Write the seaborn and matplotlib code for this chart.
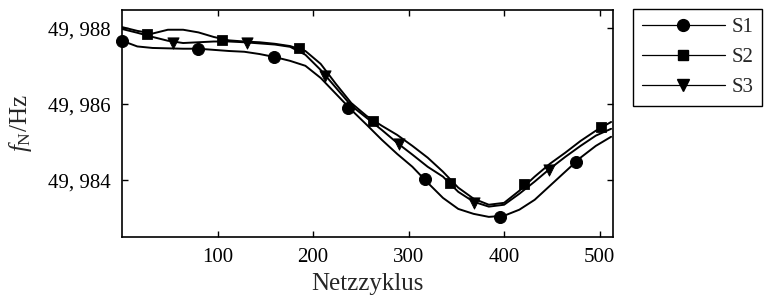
import numpy as np
import pandas as pd
import matplotlib
matplotlib.use("Agg")
import matplotlib.pyplot as plt
from matplotlib.lines import Line2D
from matplotlib.ticker import FuncFormatter
import seaborn as sns

# --- curve samples ---
netzzyklus = np.arange(0, 513, 16)

s1_curve = [49.98767, 49.98752, 49.98748, 49.98747, 49.98746, 49.98746, 49.98743, 49.98740,
            49.98738, 49.98732, 49.98724, 49.98714, 49.98701, 49.98669, 49.98627, 49.98585,
            49.98546, 49.98506, 49.98469, 49.98435, 49.98393, 49.98353, 49.98324, 49.98311,
            49.98303, 49.98306, 49.98322, 49.98348, 49.98385, 49.98422, 49.98459, 49.98490,
            49.98514]
s2_curve = [49.98803, 49.98793, 49.98786, 49.98796, 49.98796, 49.98789, 49.98777, 49.98768,
            49.98765, 49.98763, 49.98759, 49.98753, 49.98740, 49.98706, 49.98653, 49.98603,
            49.98569, 49.98543, 49.98519, 49.98490, 49.98459, 49.98422, 49.98380, 49.98351,
            49.98335, 49.98340, 49.98372, 49.98409, 49.98443, 49.98472, 49.98503, 49.98530,
            49.98553]
s3_curve = [49.98798, 49.98788, 49.98777, 49.98767, 49.98761, 49.98763, 49.98765, 49.98765,
            49.98763, 49.98760, 49.98757, 49.98751, 49.98730, 49.98690, 49.98643, 49.98596,
            49.98564, 49.98532, 49.98498, 49.98467, 49.98435, 49.98409, 49.98369, 49.98343,
            49.98330, 49.98335, 49.98364, 49.98396, 49.98430, 49.98461, 49.98490, 49.98517,
            49.98535]

# --- marker positions ---
s1_mx = [0, 80, 159, 237, 317, 396, 475]
s1_my = [49.98767, 49.98746, 49.98724, 49.98590, 49.98403, 49.98303, 49.98448]
s2_mx = [26, 105, 185, 263, 343, 421, 501]
s2_my = [49.98785, 49.98769, 49.98748, 49.98556, 49.98393, 49.98390, 49.98540]
s3_mx = [53, 131, 212, 290, 368, 447]
s3_my = [49.98761, 49.98761, 49.98674, 49.98495, 49.98340, 49.98427]

labels = ["S1", "S2", "S3"]
markers = ["o", "s", "v"]
yticks = [49.984, 49.986, 49.988]
xticks = [100, 200, 300, 400, 500]

sns.set_style("ticks")
plt.rcParams["font.family"] = ["Liberation Serif", "DejaVu Serif"]
plt.rcParams["mathtext.fontset"] = "custom"
plt.rcParams["mathtext.rm"] = "Liberation Serif"
plt.rcParams["mathtext.it"] = "Liberation Serif:italic"

W, H = 765, 299
fig = plt.figure(figsize=(W / 100, H / 100), dpi=100)
ax = fig.add_axes([122 / W, 1 - 237 / H, (613 - 122) / W, (237 - 10) / H])

curves = [s1_curve, s2_curve, s3_curve]
mxs = [s1_mx, s2_mx, s3_mx]
mys = [s1_my, s2_my, s3_my]
msizes = [75, 48, 65]

for curve, mx, my, mk, ms in zip(curves, mxs, mys, markers, msizes):
    sns.lineplot(x=netzzyklus, y=curve, color="black", linewidth=1.4, ax=ax)
    sns.scatterplot(x=mx, y=my, marker=mk, color="black", edgecolor="black", s=ms,
                    ax=ax, zorder=3, clip_on=False)

ax.set_xlim(0, 514)
ax.set_ylim(49.9825, 49.98848)
ax.set_xticks(xticks)
ax.set_yticks(yticks)
ax.yaxis.set_major_formatter(FuncFormatter(lambda v, p: f"{v:.3f}".replace(".", ", ")))
ax.tick_params(direction="in", top=True, right=True, length=4, width=1, labelsize=15,
               colors="black")
ax.tick_params(axis="x", pad=8)
ax.tick_params(axis="y", pad=8)
for s in ax.spines.values():
    s.set_linewidth(1.2)
    s.set_color("black")

ax.set_xlabel("Netzzyklus", fontsize=18, labelpad=4)
ax.set_ylabel(r"$f_\mathrm{N}$/Hz", fontsize=18, labelpad=10)

handles = [Line2D([], [], color="black", lw=0.9, marker=m, markersize=ms)
           for m, ms in zip(markers, [8.5, 6.5, 8.5])]
leg = fig.legend(handles, labels, loc="upper left", bbox_to_anchor=(633 / W, 1 - 9 / H),
                 fontsize=15, frameon=True, fancybox=False, edgecolor="black",
                 framealpha=1, handlelength=4.0, labelspacing=0.5, borderpad=0.42,
                 handletextpad=0.3, borderaxespad=0)
leg.get_frame().set_linewidth(1.0)

fig.savefig("out.png", dpi=100)
